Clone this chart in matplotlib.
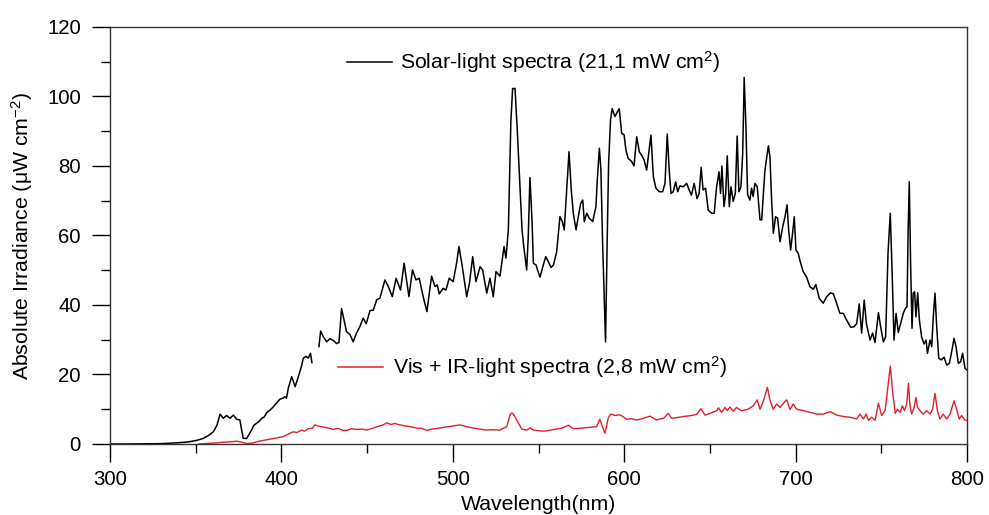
import numpy as np
import matplotlib
matplotlib.use("Agg")
import matplotlib.pyplot as plt
from matplotlib.ticker import MultipleLocator

plt.rcParams['font.family'] = ['Liberation Sans', 'DejaVu Sans']
plt.rcParams['mathtext.fontset'] = 'custom'
plt.rcParams['mathtext.rm'] = 'Liberation Sans'
plt.rcParams['mathtext.it'] = 'Liberation Sans:italic'

# ---- Data ----
solar_wl = [300, 310, 320, 330, 338, 344, 347, 351, 354.4, 357, 360.3, 362.5, 364.2, 366.1, 368, 370, 372, 374,
            375.8, 376.8, 377.8, 379.7, 382.6, 384, 385.6, 387, 388.5, 390, 391.4, 393.5, 395.3, 397.2, 399.2,
            401, 402, 403, 404, 406, 408, 409.9, 411.5, 412.8, 414.4, 415.7, 417, 417.8, 420,
            421.9, 422.9, 424.4, 426.4, 428.3, 430.3, 432.2, 433.6, 435.1, 436.5, 438, 440, 441.9, 443.8, 445.8,
            447.7, 449.5, 451.7, 453.6, 455.6, 457.5, 460.4, 462.4, 464.7, 466.9, 469.5, 471.6, 474.4, 476.5,
            478.5, 480.4, 482.7, 484.9, 487.6, 489.6, 490.9, 492.1, 494.4, 496, 497.9, 500.2, 502.2, 503.6,
            505.4, 508.1, 509.7, 511.6, 513.5, 515.9, 517.4, 519.8, 521.7, 523.6, 525.2, 527.5, 529.9, 531,
            532.4, 533.9, 534.9, 536.3, 537.6, 539.2, 540.4, 541.4, 543.1, 544, 545, 546.2, 547, 548.6, 549.4,
            550.9, 552.5, 554.2, 555.8, 557.3, 558.7, 560.6, 562.5, 563.9, 565, 566.4, 567.8, 569.1, 570.3,
            571.9, 573.2, 574.6, 575.8, 576.7, 578.1, 579.6, 581.6, 583.5, 584.3, 585.5, 586.4, 587.4, 588.4,
            589.1, 590.1, 590.9, 592, 593, 594.6, 595.9, 597.1, 598.5, 599.9, 601, 602.3, 604.3, 605.7, 607.3,
            608.8, 610.2, 611.6, 613.1, 614.5, 615.6, 617, 618.5, 620.4, 622.4, 623.8, 625.1, 626.3, 627.3,
            628.6, 630, 631.2, 632.5, 634.4, 636.4, 637.9, 639.2, 640.8, 642.5, 643.7, 644.9, 646, 647.5, 649,
            651, 652.5, 653.9, 655.3, 656.2, 657, 658.2, 659.2, 660.1, 661.3, 662.3, 663.6, 664.8, 665.9, 666.9,
            668.1, 669.1, 670, 671, 672, 673.3, 674.3, 675.2, 676.3, 677.6, 679.2, 680.2, 682.1, 684.1, 685,
            686, 687, 688.3, 689.5, 690.9, 692.5, 693.8, 695, 695.9, 697.1, 698.2, 699.2, 700.2, 701.5, 702.5,
            704.4, 706.4, 708.3, 710.3, 711.8, 713.8, 716.1, 718.1, 720.4, 722, 723.9, 725.8, 727.8, 729.7,
            732.1, 734, 735.6, 737.1, 738.5, 740, 741.3, 743.4, 744.9, 746.3, 748.3, 749.6, 751.2, 752.5,
            753.9, 755.2, 756.2, 757.4, 758.6, 759.9, 761.5, 762.8, 764, 765, 765.6, 766.3, 767.1, 767.9,
            768.6, 769.4, 770.2, 771.2, 772.2, 773.5, 774.9, 776.1, 776.9, 778.4, 779.4, 780.3, 781.3, 782.3,
            783.5, 785, 786.6, 788.1, 789.7, 791.2, 792.4, 793.6, 794.9, 796.3, 797.4, 798.8, 800]
solar_val = [0, 0, 0.05, 0.1, 0.3, 0.5, 0.7, 1.1, 1.6, 2.3, 3.5, 5.5, 8.6, 7.4, 8.2, 7.4, 8.3, 7.1,
             6.9, 4.0, 1.6, 1.6, 4.0, 5.4, 6.0, 6.5, 7.4, 7.8, 9.0, 9.8, 10.7, 11.8, 12.9,
             13.2, 13.6, 13.2, 16.0, 19.4, 16.5, 19.4, 22.0, 24.7, 25.2, 24.7, 26.1, 23.4, np.nan,
             28.0, 32.5, 30.9, 29.4, 30.3, 29.8, 28.9, 29.2, 39.0, 35.7, 32.3, 31.5, 29.4, 31.9, 33.8,
             36.2, 34.6, 38.4, 38.5, 41.5, 42.0, 47.2, 45.3, 42.4, 47.7, 44.3, 52.0, 42.4, 50.1,
             47.2, 47.7, 42.4, 38.1, 48.3, 45.3, 45.8, 43.2, 44.8, 44.3, 47.7, 46.7, 52.0, 56.8,
             51.5, 42.4, 46.2, 53.9, 46.7, 51.0, 50.1, 43.4, 47.7, 42.4, 49.6, 48.3, 56.8, 53.5,
             61.6, 93.2, 102.3, 102.3, 90.4, 74.1, 61.6, 56.8, 50.1, 59.5, 76.7, 64.5, 52.0, 51.5, 50.1,
             48.0, 51.0, 53.9, 52.4, 50.8, 51.5, 55.3, 65.4, 64.0, 61.6, 73.1, 84.1, 73.1, 66.4,
             61.6, 65.4, 69.2, 70.2, 64.0, 66.4, 65.0, 64.0, 68.3, 76.0, 85.1, 78.9, 57.7, 40.5,
             29.4, 59.7, 80.8, 93.2, 96.5, 94.2, 95.5, 96.5, 89.4, 89.0, 84.6, 82.2, 81.3, 80.0, 88.4,
             84.1, 83.1, 81.7, 78.8, 84.6, 88.9, 76.9, 73.6, 72.6, 72.6, 75.0, 89.2, 78.3, 72.1,
             72.6, 75.4, 72.6, 74.3, 74.0, 75.0, 73.1, 71.6, 75.0, 70.6, 72.1, 79.6, 73.1, 73.6, 67.3,
             66.4, 66.4, 74.0, 78.3, 72.1, 80.0, 68.3, 72.1, 82.9, 68.3, 74.0, 69.8, 72.1, 88.6, 72.6,
             74.0, 83.5, 105.5, 91.3, 71.7, 70.2, 73.6, 71.2, 75.0, 74.0, 64.5, 64.5, 78.8, 85.8, 82.7,
             70.2, 60.6, 65.4, 65.0, 58.2, 62.6, 65.4, 68.8, 61.7, 55.8, 60.6, 65.4, 55.8, 54.9, 52.8,
             49.6, 48.0, 45.3, 44.5, 45.9, 41.9, 40.5, 42.4, 43.5, 43.2, 40.5, 37.6, 37.6, 35.7,
             33.6, 33.7, 34.6, 40.3, 31.9, 41.4, 34.6, 29.9, 31.9, 29.2, 37.8, 33.7, 29.4, 30.8,
             54.9, 66.4, 51.0, 29.9, 37.6, 32.1, 35.2, 37.6, 39.0, 39.5, 60.6, 75.5, 51.0, 33.3,
             43.4, 43.8, 36.6, 43.5, 35.7, 30.8, 28.8, 29.9, 26.1, 29.9, 28.0, 36.6, 43.4, 33.7,
             24.7, 24.2, 25.0, 22.7, 23.2, 27.0, 30.4, 28.0, 23.2, 23.7, 26.1, 21.8, 21.3]

visir_wl = [352, 358, 362, 366, 370, 374, 377, 380, 383.5, 387, 391.4, 395, 398, 401, 404, 406.8, 409, 411.8,
            413.5, 415.7, 418, 419.6, 421, 423, 425.4, 428, 430.3, 433, 436, 438.1, 441, 444, 447, 449.7,
            453, 456, 459.4, 461.4, 464, 466, 469.2, 472, 475, 478.9, 482, 484.8, 488, 492.5, 496, 500.3,
            504.1, 508, 511.9, 516, 519.7, 523, 527.5, 531.5, 533.4, 534.5, 535.5, 537.3, 540.2, 543.1, 545,
            547, 550, 552.9, 556, 560.6, 564, 567.4, 570.3, 573, 576.1, 580, 583.9, 585.8, 587.8, 588.8,
            590.7, 592.1, 594.6, 597.5, 599.5, 601.4, 604, 607.2, 610, 612, 615, 618.9, 620.8, 623, 625.7,
            627.6, 631, 634.5, 638, 642.3, 644.8, 647.1, 650.1, 652, 654, 655, 656.8, 658.8, 660.1, 661.7,
            663.6, 665.5, 668.4, 672.3, 675.3, 677.6, 679.2, 681.1, 683.5, 685, 686.9, 688.9, 690.9, 692.8,
            694.8, 696.7, 698.6, 700.6, 704.5, 708.4, 712.3, 716.2, 720.1, 724, 727.9, 731.8, 735.6, 737.6,
            739.5, 741.1, 742.5, 744.4, 746.3, 748.3, 750.2, 752.2, 753.5, 755.2, 756.7, 758.1, 759.4, 761,
            762.3, 763.5, 764.8, 765.8, 766.7, 767.7, 769.1, 770.2, 771.2, 772.5, 774.5, 776.4, 778.4, 779.9,
            781.3, 782.7, 784.2, 786.1, 788.1, 790.1, 792.4, 793.9, 795.5, 796.8, 798.8, 800]
visir_val = [0, 0.2, 0.3, 0.5, 0.6, 0.8, 0.5, 0.1, 0.3, 0.8, 1.2, 1.5, 1.8, 2.1, 2.8, 3.5, 3.3, 4.0,
             3.7, 4.4, 4.5, 5.5, 5.2, 5.0, 4.8, 4.5, 4.2, 4.5, 3.9, 3.9, 4.4, 4.2, 4.3, 4.0,
             4.5, 5.0, 5.5, 6.1, 5.6, 5.9, 5.5, 5.2, 5.0, 4.6, 4.5, 3.9, 4.3, 4.6, 4.9, 5.2,
             5.5, 5.0, 4.6, 4.3, 4.0, 4.1, 4.0, 5.0, 8.5, 8.9, 8.5, 6.9, 4.3, 4.0, 4.6,
             4.0, 3.8, 3.7, 3.9, 4.3, 4.6, 5.4, 4.4, 4.5, 4.6, 4.8, 5.0, 7.1, 4.3, 3.1,
             7.5, 8.6, 8.2, 8.4, 7.8, 7.1, 7.3, 6.9, 7.2, 7.5, 8.0, 6.9, 7.2, 7.4, 8.8,
             7.4, 7.6, 7.9, 8.1, 8.5, 10.2, 8.3, 8.8, 9.2, 9.6, 10.4, 9.1, 10.5, 9.6, 10.6,
             9.4, 10.5, 9.6, 10.0, 11.0, 12.7, 10.0, 12.2, 16.3, 12.7, 10.0, 11.5, 10.5, 11.7,
             12.7, 9.9, 11.5, 10.0, 9.6, 9.1, 8.6, 8.6, 9.3, 8.3, 7.9, 7.7, 7.2, 8.6,
             7.2, 8.6, 6.8, 7.7, 6.8, 11.7, 8.2, 9.6, 15.0, 22.4, 14.6, 8.8, 10.0, 9.1,
             11.0, 9.6, 11.5, 17.5, 11.0, 8.6, 10.5, 13.4, 10.5, 9.6, 8.6, 9.6, 8.6, 10.0,
             14.6, 9.6, 7.2, 8.6, 7.2, 8.6, 12.4, 10.0, 7.2, 8.2, 6.8, 6.8]

solar_label = 'Solar-light spectra (21,1 mW cm$^{2}$)'
visir_label = 'Vis + IR-light spectra (2,8 mW cm$^{2}$)'
x_ticks = [300, 400, 500, 600, 700, 800]
y_ticks = [0, 20, 40, 60, 80, 100, 120]

# ---- Figure ----
fig = plt.figure(figsize=(9.89, 5.15), dpi=100)
ax = fig.add_axes([0.1112, 0.1379, 0.8666, 0.8097])

ax.plot(solar_wl, solar_val, color='black', lw=1.1)
ax.plot(visir_wl, visir_val, color='#e0202a', lw=1.0)

ax.set_xlim(300, 800)
ax.set_ylim(0, 120)
ax.set_xticks(x_ticks)
ax.set_yticks(y_ticks)
ax.xaxis.set_minor_locator(MultipleLocator(50))
ax.yaxis.set_minor_locator(MultipleLocator(10))
ax.tick_params(which='major', direction='out', length=13, width=1.0, labelsize=14.7, pad=6,
               top=False, right=False)
ax.tick_params(which='minor', direction='out', length=6.5, width=1.0, top=False, right=False)
ax.tick_params(axis='y', which='major', pad=8)
for s in ax.spines.values():
    s.set_linewidth(1.0)
    s.set_color('#333333')

ax.set_xlabel('Wavelength(nm)', fontsize=15.3, labelpad=4)
ax.set_ylabel('Absolute Irradiance (μW cm$^{-2}$)', fontsize=15.3, labelpad=9)

# in-plot legend entries
ax.plot([438.3, 464.6], [109.9, 109.9], color='black', lw=1.1)
ax.text(469.0, 109.9, solar_label, fontsize=15.3, va='center', ha='left')
ax.plot([433.0, 459.3], [22.2, 22.2], color='#e0202a', lw=1.1)
ax.text(465.0, 22.2, visir_label, fontsize=15.3, va='center', ha='left')

fig.savefig('out.png', dpi=100)
